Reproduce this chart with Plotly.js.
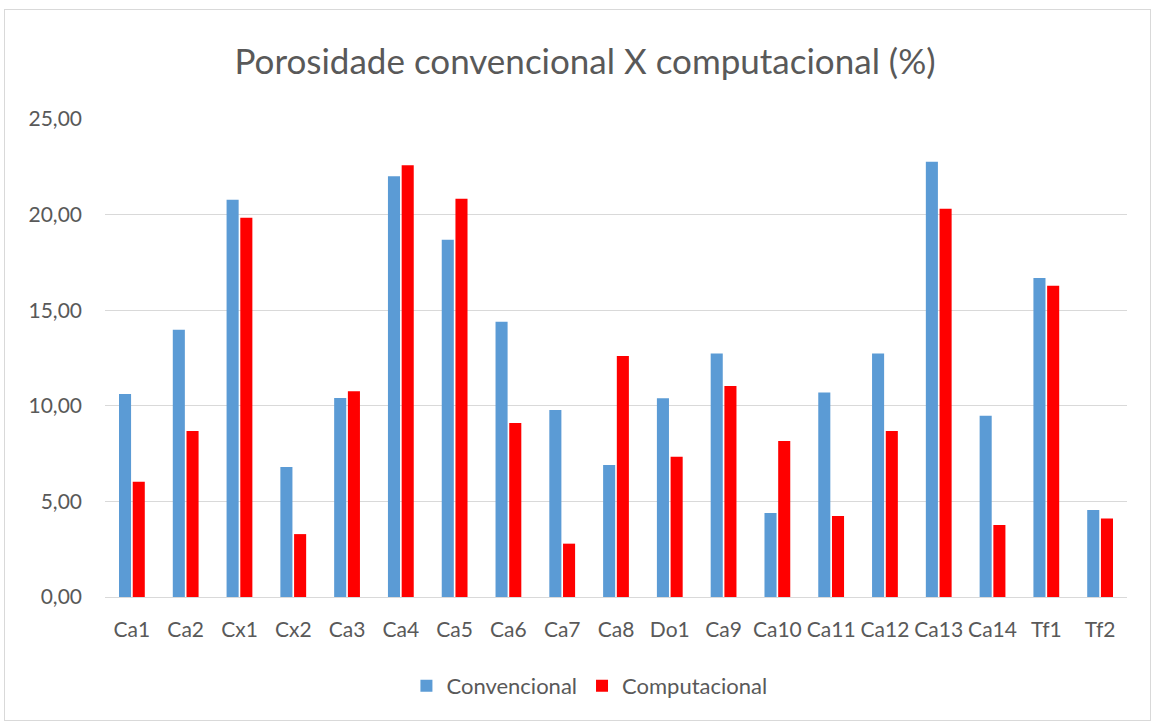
<!DOCTYPE html>
<html>
<head>
<meta charset="utf-8">
<script src="https://cdn.plot.ly/plotly-3.0.1.min.js"></script>
<style>
  html, body { margin: 0; padding: 0; background: #ffffff; }
  #frame { position: absolute; left: 4px; top: 9px; width: 1145px; height: 710px; border: 1px solid #d9d9d9; }
  #chart { width: 1145px; height: 710px; }
</style>
</head>
<body>
<div id="frame"><div id="chart"></div></div>
<script>
const categories = ["Ca1","Ca2","Cx1","Cx2","Ca3","Ca4","Ca5","Ca6","Ca7","Ca8","Do1","Ca9","Ca10","Ca11","Ca12","Ca13","Ca14","Tf1","Tf2"];
const convencional = [10.62, 13.98, 20.78, 6.80, 10.41, 22.00, 18.69, 14.40, 9.78, 6.90, 10.39, 12.73, 4.39, 10.69, 12.73, 22.77, 9.48, 16.68, 4.55];
const computacional = [6.03, 8.68, 19.84, 3.29, 10.76, 22.58, 20.83, 9.10, 2.79, 12.60, 7.34, 11.04, 8.16, 4.24, 8.68, 20.31, 3.77, 16.28, 4.10];
const yTicks = [0, 5, 10, 15, 20, 25];

const FONT = "Lato, 'Open Sans', sans-serif";
const TXT = "#595959";

const traces = [
  { type: "bar", name: "Convencional", x: categories, y: convencional, marker: { color: "#5b9bd5" }, hoverinfo: "x+y" },
  { type: "bar", name: "Computacional", x: categories, y: computacional, marker: { color: "#ff0000" }, hoverinfo: "x+y" }
];

const layout = {
  width: 1145, height: 710,
  margin: { l: 100, r: 23, t: 109, b: 123 },
  paper_bgcolor: "#ffffff", plot_bgcolor: "#ffffff",
  separators: ",.",
  barmode: "group", bargap: 0.49, bargroupgap: 0.12,
  title: { text: "Porosidade convencional X computacional (%)", x: 0.5066, xanchor: "center", xref: "container", y: 1 - 52 / 710, yanchor: "middle", yref: "container", font: { family: FONT, size: 35, color: TXT } },
  xaxis: { type: "category", automargin: false, tickangle: 0, showgrid: false, showline: true, linecolor: "#d9d9d9", linewidth: 1.3, ticks: "", tickfont: { family: FONT, size: 21, color: TXT }, ticklabelstandoff: 13 },
  yaxis: { range: [0, 25], automargin: false, tickvals: yTicks, tickformat: ".2f", showgrid: true, gridcolor: "#d9d9d9", gridwidth: 1.3, zeroline: false, showline: false, ticks: "", tickfont: { family: FONT, size: 21, color: TXT }, ticklabelstandoff: 22 },
  legend: { orientation: "h", x: 0.474, xanchor: "center", y: -0.186, yanchor: "middle", font: { family: FONT, size: 22, color: TXT }, itemwidth: 30, traceorder: "normal" },
  showlegend: true
};

Plotly.newPlot("chart", traces, layout, { displayModeBar: false, staticPlot: true });
</script>
</body>
</html>
